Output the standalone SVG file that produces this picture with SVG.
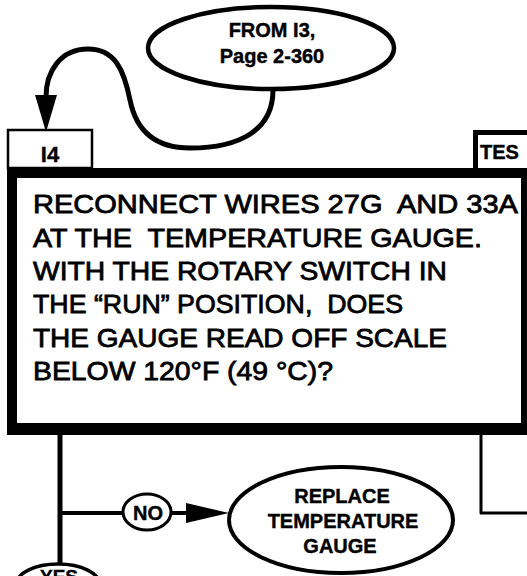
<svg xmlns="http://www.w3.org/2000/svg" width="527" height="576" viewBox="0 0 527 576">
<style>
.ln{fill:none;stroke:#000;stroke-linecap:butt;stroke-linejoin:round}
.b{font-family:"Liberation Sans",Arial,sans-serif;font-weight:bold;fill:#000;stroke:#000;stroke-width:0.4}
.m{font-family:"Liberation Sans",Arial,sans-serif;font-size:26px;fill:#000;stroke:#000;stroke-width:0.8}
</style>
<rect width="527" height="576" fill="#fff"/>
<g id="connectors">
<path class="ln" stroke-width="5" d="M 273 90 C 273 130 240 148 190 148 C 150 148 135 125 130 100 C 124 70 115 49 88 49 C 60 49 46 72 46 97"/>
<polygon points="35,95 57,95 46,132" fill="#000"/>
<path class="ln" stroke-width="5" d="M 60 435 V 563"/>
<path class="ln" stroke-width="4" d="M 60 513 H 122"/>
<path class="ln" stroke-width="4" d="M 172 513 H 190"/>
<polygon points="186,503 186,523 229,513" fill="#000"/>
<path class="ln" stroke-width="3" d="M 481 435 V 513 H 527"/>
</g>
<g id="from-i3">
<ellipse cx="271" cy="48" rx="123" ry="41" fill="#fff" stroke="#000" stroke-width="4.5"/>
<text class="b" font-size="20" x="272" y="37" text-anchor="middle">FROM I3,</text>
<text class="b" font-size="20" x="272" y="63" text-anchor="middle">Page 2-360</text>
</g>
<g id="i4-label">
<rect x="8" y="130" width="84" height="38" fill="#fff" stroke="#000" stroke-width="2.5"/>
<text class="b" font-size="22" x="50" y="162" text-anchor="middle">I4</text>
</g>
<g id="test-label">
<rect x="475.5" y="132.5" width="60" height="40" fill="#fff" stroke="#000" stroke-width="5"/>
<text class="b" font-size="20" x="480" y="159">TES</text>
</g>
<g id="i4-box">
<path fill="#000" fill-rule="evenodd" d="M 7 168 H 527 V 435 H 7 Z M 17 178 V 423 H 521 V 178 Z"/>
<text class="m" x="33" y="213" textLength="485" lengthAdjust="spacingAndGlyphs" xml:space="preserve">RECONNECT WIRES 27G  AND 33A</text>
<text class="m" x="33" y="246.5" textLength="449" lengthAdjust="spacingAndGlyphs" xml:space="preserve">AT THE  TEMPERATURE GAUGE.</text>
<text class="m" x="33" y="280" textLength="414" lengthAdjust="spacingAndGlyphs">WITH THE ROTARY SWITCH IN</text>
<text class="m" x="33" y="313" textLength="370" lengthAdjust="spacingAndGlyphs" xml:space="preserve">THE “RUN” POSITION,  DOES</text>
<text class="m" x="33" y="347" textLength="414" lengthAdjust="spacingAndGlyphs">THE GAUGE READ OFF SCALE</text>
<text class="m" x="33" y="380" textLength="300" lengthAdjust="spacingAndGlyphs">BELOW 120°F (49 °C)?</text>
</g>
<g id="no-label">
<ellipse cx="147" cy="512" rx="24" ry="18" fill="#fff" stroke="#000" stroke-width="3"/>
<text class="b" font-size="20" x="148" y="520" text-anchor="middle">NO</text>
</g>
<g id="replace-gauge">
<ellipse cx="341" cy="520" rx="112" ry="53" fill="#fff" stroke="#000" stroke-width="4"/>
<text class="b" font-size="20" x="342" y="503" text-anchor="middle">REPLACE</text>
<text class="b" font-size="20" x="343" y="528" text-anchor="middle">TEMPERATURE</text>
<text class="b" font-size="20" x="340" y="553" text-anchor="middle">GAUGE</text>
</g>
<g id="yes-label">
<ellipse cx="58" cy="585" rx="42" ry="21" fill="#fff" stroke="#000" stroke-width="3.5"/>
<text class="b" font-size="19" x="59" y="583" text-anchor="middle">YES</text>
</g>
</svg>
